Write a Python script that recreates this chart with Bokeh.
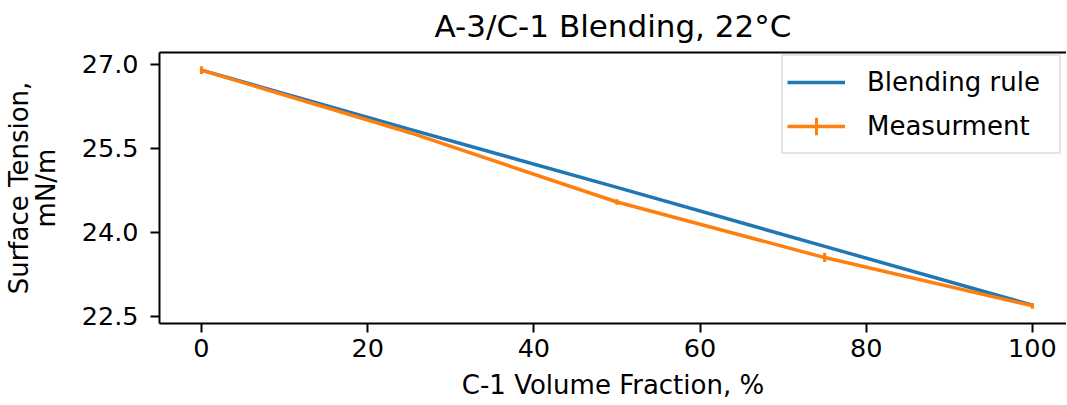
from bokeh.plotting import figure
from bokeh.models import (ColumnDataSource, Legend, LegendItem, LinearAxis,
                          FixedTicker, NumeralTickFormatter, Range1d)
from bokeh.embed import file_html
from bokeh.resources import INLINE

# ---- data ----
fraction = [0, 25, 50, 75, 100]
blending_rule = [26.89, 25.84, 24.80, 23.75, 22.70]
measurement = [26.89, 25.78, 24.54, 23.55, 22.69]
meas_err = [0.07, 0.03, 0.05, 0.08, 0.05]
x_ticks = [0, 20, 40, 60, 80, 100]
y_ticks = [22.5, 24.0, 25.5, 27.0]
title_text = "A-3/C-1 Blending, 22°C"

BLUE = "#1f77b4"
ORANGE = "#ff7f0e"
FONT = "DejaVu Sans"

src = ColumnDataSource(dict(
    x=fraction, rule=blending_rule, meas=measurement,
    lo=[m - e for m, e in zip(measurement, meas_err)],
    hi=[m + e for m, e in zip(measurement, meas_err)],
))

p = figure(frame_width=907, frame_height=271, output_backend="svg", toolbar_location=None,
           x_range=Range1d(-5.05, 104.1), y_range=Range1d(22.375, 27.205),
           min_border_left=152, min_border_right=0, min_border_top=43,
           min_border_bottom=0)
p.background_fill_color = "white"
p.border_fill_color = "white"
p.outline_line_color = None
p.xgrid.visible = False
p.ygrid.visible = False

p.title.text = title_text
p.title.text_font = FONT
p.title.text_font_size = "31px"
p.title.text_font_style = "normal"
p.title.align = "center"
p.title.vertical_align = "top"
p.title.text_color = "black"
p.title.standoff = 14

for ax in (p.xaxis[0], p.yaxis[0]):
    ax.axis_line_width = 2
    ax.axis_line_color = "black"
    ax.major_tick_line_width = 2
    ax.major_tick_line_color = "black"
    ax.major_tick_out = 9
    ax.major_tick_in = 0
    ax.minor_tick_line_color = None
    ax.major_label_text_font = FONT
    ax.major_label_text_font_size = "25.5px"
    ax.major_label_text_color = "black"
    ax.axis_label_text_font = FONT
    ax.axis_label_text_font_size = "26px"
    ax.axis_label_text_font_style = "normal"
    ax.axis_label_text_color = "black"

p.xaxis[0].ticker = FixedTicker(ticks=x_ticks)
p.yaxis[0].ticker = FixedTicker(ticks=y_ticks)
p.yaxis[0].formatter = NumeralTickFormatter(format="0.0")
p.xaxis[0].axis_label = "C-1 Volume Fraction, %"
p.yaxis[0].axis_label = "Surface Tension,\nmN/m"
p.yaxis[0].axis_label_text_line_height = 0.9
p.xaxis[0].major_label_standoff = 6
p.yaxis[0].major_label_standoff = 12
p.xaxis[0].axis_label_standoff = 10
p.yaxis[0].axis_label_standoff = 18

# top spine
top = LinearAxis(ticker=FixedTicker(ticks=[]), major_label_text_font_size="0px",
                 major_label_standoff=0, major_tick_out=0, major_tick_in=0,
                 axis_line_width=2, axis_line_color="black",
                 major_tick_line_color=None, minor_tick_line_color=None)
p.add_layout(top, "above")

r_rule = p.line("x", "rule", source=src, color=BLUE, line_width=3.5)
r_meas = p.line("x", "meas", source=src, color=ORANGE, line_width=3.5)
r_err = p.segment(x0="x", y0="lo", x1="x", y1="hi", source=src,
                  color=ORANGE, line_width=3.2)
# legend-only proxy for the error-bar tick (zero size in the plot)
r_leg = p.scatter("x", "meas", source=src, marker="cross",
                  size=0, line_color=ORANGE, line_width=3, fill_color=None)

legend = Legend(items=[LegendItem(label="Blending rule", renderers=[r_rule]),
                       LegendItem(label="Measurment", renderers=[r_meas, r_leg])],
                location=(622, 169))
legend.label_text_font = FONT
legend.label_text_font_size = "26px"
legend.label_text_color = "black"
legend.glyph_width = 58
legend.glyph_height = 44
legend.label_height = 40
legend.label_standoff = 22
legend.label_width = 188
legend.spacing = -8
legend.padding = 4
legend.margin = 0
legend.border_line_color = "#cccccc"
legend.border_line_width = 2
legend.background_fill_color = "white"
legend.background_fill_alpha = 0.8
p.add_layout(legend, "center")

open("out.html", "w").write(file_html(p, INLINE))
